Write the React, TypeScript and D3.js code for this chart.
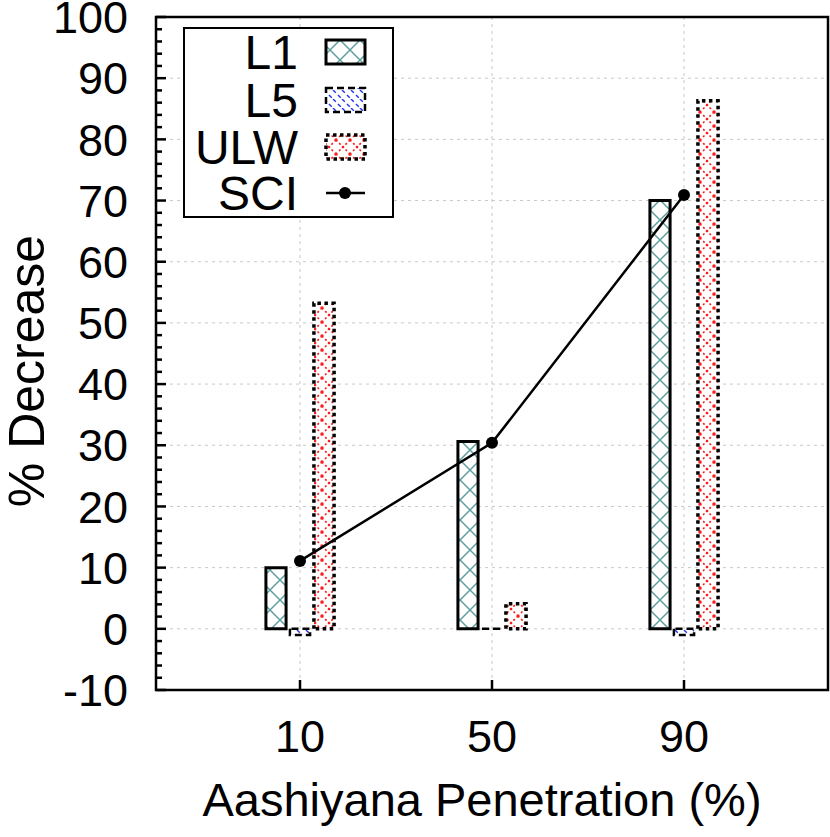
import React from "react";
import * as d3 from "d3";

const categories = [10, 50, 90];
const l1Values = [10, 30.6, 70];
const l5Values = [-1, 0, -1];
const ulwValues = [53.2, 4.1, 86.3];
const sciValues = [11.1, 30.4, 70.9];
const yTicks = [-10, 0, 10, 20, 30, 40, 50, 60, 70, 80, 90, 100];
const seriesNames = ["L1", "L5", "ULW", "SCI"];

const W = 830, H = 837;
const M = { left: 156, right: 828, top: 17, bottom: 690 };
const FONT = "'Liberation Sans', Arial, Helvetica, sans-serif";

export default function App() {
  const x = d3.scaleLinear().domain([-20, 120]).range([M.left, M.right]);
  const y = d3.scaleLinear().domain([-10, 100]).range([M.bottom, M.top]);
  const minor = d3.range(-10, 100.01, 2).filter((v) => Math.abs(v % 10) > 0.01);
  const off = 5;
  const bw = 4.2;

  const barPath = (cx: number, v: number) => {
    const x0 = x(cx - bw / 2), x1 = x(cx + bw / 2);
    const y0 = y(0), y1 = y(v);
    return `M${x0},${y0}L${x0},${y1}L${x1},${y1}L${x1},${y0}Z`;
  };

  const line = d3.line<number>().x((_, i) => x(categories[i])).y((d) => y(d));

  const series = [
    { name: "L1", values: l1Values, dx: -off, fill: "url(#pL1)", dash: "none", sw: 3 },
    { name: "L5", values: l5Values, dx: 0, fill: "url(#pL5)", dash: "7,4", sw: 2.5 },
    { name: "ULW", values: ulwValues, dx: off, fill: "url(#pULW)", dash: "3.5,3.5", sw: 3.5 },
  ];

  const legRows = [52, 100, 147, 193];

  return (
    <svg width={W} height={H} style={{ position: "absolute", left: 0, top: 0 }} fontFamily={FONT}>
      <defs>
        <pattern id="pL1" patternUnits="userSpaceOnUse" width={20} height={20}>
          <rect width={20} height={20} fill="#fff" />
          <path d="M0,0L20,20M20,0L0,20" stroke="#5f9f9f" strokeWidth={1.5} />
        </pattern>
        <pattern id="pL5" patternUnits="userSpaceOnUse" width={9} height={9}>
          <rect width={9} height={9} fill="#fff" />
          <path d="M0,0L9,9M-9,0L0,9M9,0L18,9" stroke="#2233ee" strokeWidth={1.4} strokeDasharray="4,3" />
        </pattern>
        <pattern id="pULW" patternUnits="userSpaceOnUse" width={14} height={14}>
          <rect width={14} height={14} fill="#fff" />
          <path d="M0,0L14,14M14,0L0,14" stroke="#ff1a1a" strokeWidth={1.6} strokeDasharray="2,2.5" />
          <circle cx={7} cy={7} r={1.3} fill="#ff1a1a" />
        </pattern>
      </defs>
      <rect width={W} height={H} fill="#fff" />
      {/* grid */}
      <g stroke="#c8c8c8" strokeWidth={1} strokeDasharray="3,4">
        {yTicks.map((t) => (
          <line key={"gy" + t} x1={M.left} x2={M.right} y1={y(t)} y2={y(t)} />
        ))}
        {categories.map((c) => (
          <line key={"gx" + c} x1={x(c)} x2={x(c)} y1={M.top} y2={M.bottom} />
        ))}
      </g>
      {/* bars */}
      {series.map((s) =>
        s.values.map((v, i) => (
          <path
            key={s.name + i}
            d={barPath(categories[i] + s.dx, v)}
            fill={s.fill}
            stroke="#000"
            strokeWidth={s.sw}
            strokeDasharray={s.dash}
          />
        ))
      )}
      {/* SCI line */}
      <path d={line(sciValues) || ""} fill="none" stroke="#000" strokeWidth={2.5} />
      {sciValues.map((v, i) => (
        <circle key={"c" + i} cx={x(categories[i])} cy={y(v)} r={6} fill="#000" />
      ))}
      {/* frame */}
      <rect x={M.left} y={M.top} width={M.right - M.left} height={M.bottom - M.top} fill="none" stroke="#000" strokeWidth={2.5} />
      {/* ticks */}
      <g stroke="#000" strokeWidth={2.5}>
        {yTicks.map((t) => (
          <line key={"ty" + t} x1={M.left} x2={M.left + 10} y1={y(t)} y2={y(t)} />
        ))}
        {minor.map((t) => (
          <line key={"my" + t} x1={M.left} x2={M.left + 6} y1={y(t)} y2={y(t)} />
        ))}
        {categories.map((c) => (
          <line key={"tx" + c} x1={x(c)} x2={x(c)} y1={M.bottom} y2={M.bottom - 10} />
        ))}
      </g>
      <g fontSize={45} fill="#000">
        {yTicks.map((t) => (
          <text key={"ly" + t} x={128} y={y(t)} dy="0.36em" textAnchor="end">
            {t}
          </text>
        ))}
        {categories.map((c) => (
          <text key={"lx" + c} x={x(c)} y={752} textAnchor="middle">
            {c}
          </text>
        ))}
      </g>
      <g fill="#000">
        <text x={482} y={816} fontSize={47} textAnchor="middle">Aashiyana Penetration (%)</text>
        <text fontSize={50} transform={`translate(44,371) rotate(-90)`} textAnchor="middle">
          % Decrease
        </text>
      </g>
      {/* legend */}
      <rect x={184} y={28} width={209} height={189} fill="#fff" stroke="#000" strokeWidth={2} />
      <g fontSize={48}>
        {seriesNames.map((n, i) => (
          <text key={"lg" + n} x={298} y={legRows[i]} dy="0.36em" textAnchor="end">
            {n}
          </text>
        ))}
      </g>
      {series.map((s, i) => (
        <rect
          key={"ls" + s.name}
          x={326}
          y={legRows[i] - 12}
          width={39}
          height={24}
          fill={s.fill}
          stroke="#000"
          strokeWidth={s.sw}
          strokeDasharray={s.dash}
        />
      ))}
      <line x1={326} x2={365} y1={legRows[3]} y2={legRows[3]} stroke="#000" strokeWidth={2.5} />
      <circle cx={345} cy={legRows[3]} r={6} fill="#000" />
    </svg>
  );
}
